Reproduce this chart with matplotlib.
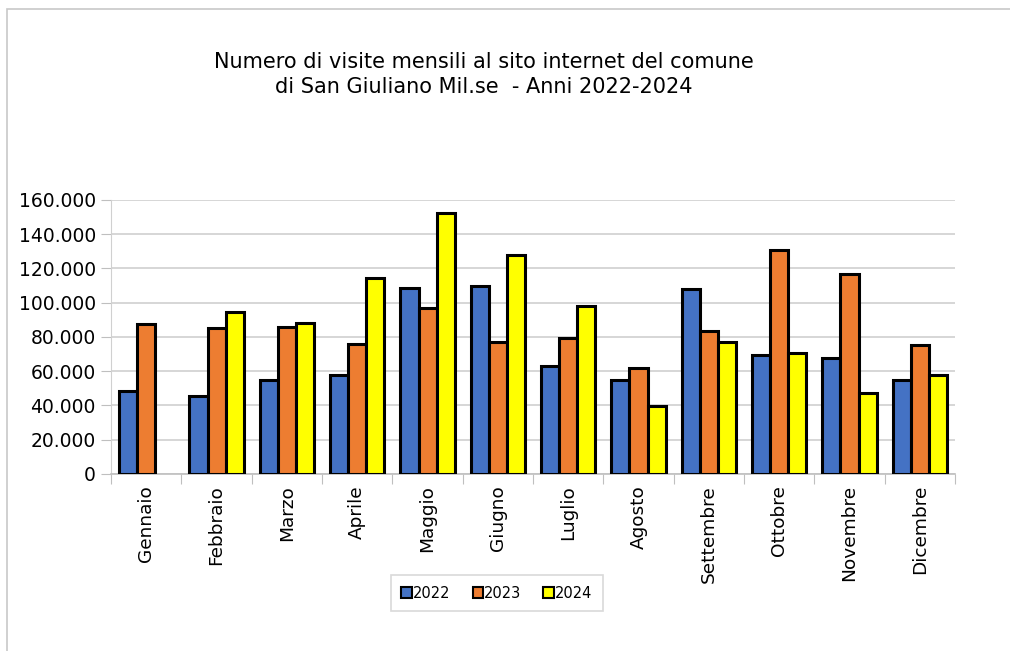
import matplotlib.pyplot as plt
import numpy as np
from matplotlib.patches import Rectangle
from matplotlib.ticker import FuncFormatter

mesi = ['Gennaio', 'Febbraio', 'Marzo', 'Aprile', 'Maggio', 'Giugno',
        'Luglio', 'Agosto', 'Settembre', 'Ottobre', 'Novembre', 'Dicembre']
visite_2022 = [48400, 45300, 55000, 58000, 108700, 109900,
               62800, 54600, 107700, 69700, 67700, 55000]
visite_2023 = [87800, 84900, 85900, 76100, 96800, 77100,
               79400, 61900, 83700, 130500, 116900, 75500]
# gennaio 2024 assente nel grafico
visite_2024 = [np.nan, 94600, 88200, 114500, 152200, 127600,
               98000, 39600, 76900, 70800, 47400, 58000]
anni = ['2022', '2023', '2024']
colori = ['#4472C4', '#ED7D31', '#FFFF00']


def main():
    plt.rcParams['font.family'] = 'DejaVu Sans'
    fig = plt.figure(figsize=(10.1, 6.51), dpi=100)
    ax = fig.add_axes([0.110, 0.272, 0.8355, 0.421])

    x = np.arange(len(mesi))
    w = 0.257
    serie = [visite_2022, visite_2023, visite_2024]
    for i in range(3):
        ax.bar(x + (i - 1) * w, serie[i], width=w, color=colori[i],
               edgecolor='black', linewidth=2.2, label=anni[i], zorder=3)

    ax.set_xlim(-0.5, len(mesi) - 0.5)
    ax.set_ylim(0, 160000)
    ax.set_yticks(np.arange(0, 160001, 20000))
    ax.yaxis.set_major_formatter(FuncFormatter(
        lambda v, p: '{:,.0f}'.format(v).replace(',', '.')))
    ax.tick_params(axis='y', labelsize=13.5, length=7, color='#BFBFBF', pad=4)
    ax.grid(axis='y', color='#D0D0D0', linewidth=1.2, zorder=0)

    # tick tra le categorie, etichette al centro
    ax.set_xticks(np.arange(-0.5, len(mesi), 1))
    ax.set_xticklabels([])
    ax.set_xticks(x, minor=True)
    ax.set_xticklabels(mesi, minor=True, rotation=90, fontsize=13.3)
    ax.tick_params(axis='x', which='major', length=7, color='#BFBFBF')
    ax.tick_params(axis='x', which='minor', length=0, pad=8)

    for s in ['top', 'right']:
        ax.spines[s].set_visible(False)
    ax.spines['left'].set_color('#D0D0D0')
    ax.spines['bottom'].set_color('#BFBFBF')
    ax.spines['bottom'].set_linewidth(1.2)

    fig.text(0.479, 0.886, 'Numero di visite mensili al sito internet del comune\n'
             'di San Giuliano Mil.se  - Anni 2022-2024',
             ha='center', va='center', fontsize=15, linespacing=1.3)

    leg = fig.legend(loc='center', bbox_to_anchor=(0.492, 0.089), ncol=3,
                     fontsize=10.5, frameon=True, fancybox=False,
                     handlelength=0.7, handleheight=0.7, handletextpad=0.1,
                     columnspacing=1.5, borderpad=0.7)
    leg.get_frame().set_edgecolor('#D0D0D0')
    leg.get_frame().set_linewidth(1.2)
    for h in leg.legend_handles:
        h.set_linewidth(1.5)

    # bordo esterno del grafico
    fig.patches.append(Rectangle((7 / 1010, -0.02), 1.1, 1 - 9 / 651 + 0.02,
                                 transform=fig.transFigure, fill=False,
                                 edgecolor='#C8C8C8', linewidth=1.2))

    fig.savefig('out.png', dpi=100)


if __name__ == '__main__':
    main()
